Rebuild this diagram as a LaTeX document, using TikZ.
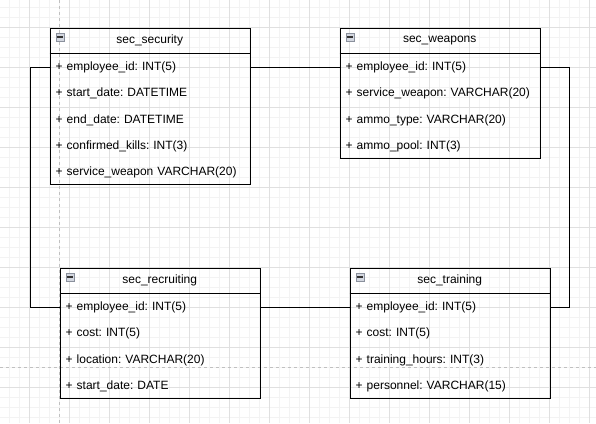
\documentclass[tikz,border=0pt]{standalone}
\usepackage{fontspec}
\setmainfont{Liberation Sans}
\frenchspacing
\definecolor{gridminor}{HTML}{F3F3F3}
\definecolor{gridmajor}{HTML}{E0E0E0}
\definecolor{guidegray}{HTML}{C0C0C0}
\definecolor{iconfill}{HTML}{D3D7E0}
\definecolor{iconedge}{HTML}{8A909C}
\definecolor{iconbar}{HTML}{333333}
\begin{document}
\begin{tikzpicture}[x=1pt,y=-1pt,
  font=\fontsize{12}{14}\selectfont\frenchspacing,
  minorline/.style={draw=gridminor, line width=1pt},
  majorline/.style={draw=gridmajor, line width=1pt},
  guide/.style={draw=guidegray, line width=1pt, dash pattern=on 3pt off 3pt},
  tblbox/.style={draw=black, line width=1pt, minimum width=200pt, inner sep=0pt, anchor=north west},
  hdr/.style={minimum width=200pt, minimum height=26pt, inner sep=0pt, anchor=north west},
  fld/.style={minimum height=26pt, text width=188pt, inner xsep=6pt, inner ysep=0pt, align=left, anchor=north west},
  sepline/.style={draw=black, line width=1pt},
  icon/.style={draw=iconedge, fill=iconfill, line width=0.8pt, minimum size=8pt, inner sep=0pt, anchor=north west},
  iconminus/.style={draw=iconbar, line width=1.2pt},
  link/.style={draw=black, line width=1pt}]
\fill[white] (0,0) rectangle (596,423);
\useasboundingbox (0,0) rectangle (596,423);
% grid
\foreach \x in {9.5,19.5,...,589.5} \draw[minorline] (\x,0) -- (\x,423);
\foreach \y in {7.5,17.5,...,417.5} \draw[minorline] (0,\y) -- (596,\y);
\foreach \x in {29.5,69.5,...,589.5} \draw[majorline] (\x,0) -- (\x,423);
\foreach \y in {27.5,67.5,...,407.5} \draw[majorline] (0,\y) -- (596,\y);
% guides
\draw[guide] (59.5,0) -- (59.5,423);
\draw[guide] (0,367.5) -- (596,367.5);

% sec_security
\node[tblbox, minimum height=156pt] (secbox) at (49.5,27.5) {};
\node[hdr] (sech) at (secbox.north west) {sec\_security};
\draw[sepline] (sech.south west) -- (sech.south east);
\node[icon] (secicon) at ([xshift=6pt,yshift=-5pt]secbox.north west) {};
\draw[iconminus] ([xshift=1.8pt]secicon.west) -- ([xshift=-1.8pt]secicon.east);
\node[fld] (s1) at (sech.south west) {+ employee\_id: INT(5)};
\node[fld] (s2) at (s1.south west) {+ start\_date: DATETIME};
\node[fld] (s3) at (s2.south west) {+ end\_date: DATETIME};
\node[fld] (s4) at (s3.south west) {+ confirmed\_kills: INT(3)};
\node[fld] (s5) at (s4.south west) {+ service\_weapon VARCHAR(20)};

% sec_weapons
\node[tblbox, minimum height=130pt] (wepbox) at (339.5,27.5) {};
\node[hdr] (weph) at (wepbox.north west) {sec\_weapons};
\draw[sepline] (weph.south west) -- (weph.south east);
\node[icon] (wepicon) at ([xshift=6pt,yshift=-5pt]wepbox.north west) {};
\draw[iconminus] ([xshift=1.8pt]wepicon.west) -- ([xshift=-1.8pt]wepicon.east);
\node[fld] (w1) at (weph.south west) {+ employee\_id: INT(5)};
\node[fld] (w2) at (w1.south west) {+ service\_weapon: VARCHAR(20)};
\node[fld] (w3) at (w2.south west) {+ ammo\_type: VARCHAR(20)};
\node[fld] (w4) at (w3.south west) {+ ammo\_pool: INT(3)};

% sec_recruiting
\node[tblbox, minimum height=130pt] (recbox) at (59.5,267.5) {};
\node[hdr] (rech) at (recbox.north west) {sec\_recruiting};
\draw[sepline] (rech.south west) -- (rech.south east);
\node[icon] (recicon) at ([xshift=6pt,yshift=-5pt]recbox.north west) {};
\draw[iconminus] ([xshift=1.8pt]recicon.west) -- ([xshift=-1.8pt]recicon.east);
\node[fld] (r1) at (rech.south west) {+ employee\_id: INT(5)};
\node[fld] (r2) at (r1.south west) {+ cost: INT(5)};
\node[fld] (r3) at (r2.south west) {+ location: VARCHAR(20)};
\node[fld] (r4) at (r3.south west) {+ start\_date: DATE};

% sec_training
\node[tblbox, minimum height=130pt] (trnbox) at (349.5,267.5) {};
\node[hdr] (trnh) at (trnbox.north west) {sec\_training};
\draw[sepline] (trnh.south west) -- (trnh.south east);
\node[icon] (trnicon) at ([xshift=6pt,yshift=-5pt]trnbox.north west) {};
\draw[iconminus] ([xshift=1.8pt]trnicon.west) -- ([xshift=-1.8pt]trnicon.east);
\node[fld] (t1) at (trnh.south west) {+ employee\_id: INT(5)};
\node[fld] (t2) at (t1.south west) {+ cost: INT(5)};
\node[fld] (t3) at (t2.south west) {+ training\_hours: INT(3)};
\node[fld] (t4) at (t3.south west) {+ personnel: VARCHAR(15)};

% connectors
\draw[link] (s1.west) -- ++(-19.5,0) |- (r1.west);
\draw[link] (s1.east) -- (w1.west);
\draw[link] (w1.east) -- ++(30,0) |- (t1.east);
\draw[link] (r1.east) -- (t1.west);
\end{tikzpicture}
\end{document}
